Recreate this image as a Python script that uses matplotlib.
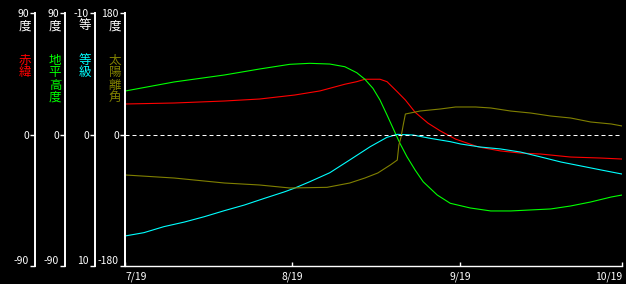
import numpy as np
import matplotlib
matplotlib.use("Agg")
import matplotlib.pyplot as plt

plt.rcParams['font.family'] = ['Noto Sans CJK JP', 'DejaVu Sans']

# days counted from 7/19
date_ticks = [0, 31, 62, 92]
date_labels = ["7/19", "8/19", "9/19", "10/19"]

# declination (deg)
dec_days = [0, 9.1, 18.4, 24.9, 31.4, 36.1, 40.7, 42.9, 44.4, 47.2, 48.5, 50.4, 51.9,
            53.7, 56.1, 58.4, 61.2, 65.4, 69.5, 73.2, 77.0, 82.5, 88.1, 92]
dec = [21.8, 22.5, 23.9, 25.3, 28.1, 31.0, 35.7, 37.5, 39.2, 39.2, 37.5, 30.4, 24.6,
       16.0, 8.3, 2.8, -2.9, -8.4, -11.2, -12.7, -13.4, -15.5, -16.2, -16.9]

# altitude (deg)
alt_days = [0, 9.1, 18.4, 24.9, 30.5, 34.2, 37.9, 40.7, 42.9, 44.4, 45.9, 47.2, 48.5,
            49.6, 50.9, 52.2, 53.7, 55.2, 57.8, 60.2, 62.1, 63.9, 67.7, 71.4, 75.1,
            78.8, 82.5, 86.2, 90.0, 92]
alt = [30.9, 37.3, 42.2, 46.4, 49.7, 50.4, 49.9, 48.0, 43.8, 39.2, 32.8, 24.6, 14.1,
       4.9, -5.9, -15.3, -24.6, -32.9, -42.2, -48.0, -49.7, -51.3, -53.4, -53.4, -52.7,
       -52.0, -49.9, -47.1, -43.6, -42.2]

# magnitude
mag_days = [0, 3.5, 7.2, 11.0, 14.7, 18.4, 22.1, 25.8, 29.6, 31.4, 34.2, 37.9, 41.6,
            45.4, 48.5, 50.4, 53.3, 56.5, 60.2, 62.1, 65.8, 69.5, 73.2, 77.0, 80.7,
            84.4, 88.1, 92]
mag = [7.89, 7.63, 7.16, 6.80, 6.38, 5.91, 5.47, 4.95, 4.43, 4.15, 3.65, 2.95, 1.95,
       0.91, 0.18, -0.05, 0.0, 0.26, 0.52, 0.70, 0.94, 1.09, 1.33, 1.72, 2.11,
       2.42, 2.73, 3.05]

# elongation (deg)
elo_days = [0, 9.1, 18.4, 24.9, 30.5, 37.4, 41.6, 44.4, 46.8, 49.1, 50.4, 50.7, 51.1,
            51.5, 51.9, 54.6, 58.4, 61.2, 64.9, 67.7, 71.4, 75.1, 78.8, 82.5, 86.2,
            90.0, 92]
elo = [-56.2, -60.5, -67.5, -70.3, -74.5, -73.6, -67.5, -60.5, -53.4, -42.2, -35.2, -14.0, -2.8,
       14.0, 29.5, 33.7, 36.6, 39.4, 39.4, 38.0, 33.7, 30.9, 26.7, 23.9, 18.3,
       15.5, 12.7]

RED, GREEN, CYAN, OLIVE = "#ff0000", "#00ff00", "#00ffff", "#808000"

# left scales: top label, bottom label, unit, name, colour
scales = [
    ("90", "-90", "度", "赤緯", RED),
    ("90", "-90", "度", "地平高度", GREEN),
    ("-10", "10", "等", "等級", CYAN),
    ("180", "-180", "度", "太陽離角", OLIVE),
]

W, H = 626, 284
fig = plt.figure(figsize=(W / 100, H / 100), dpi=100, facecolor="black")

def px(x, y):
    return x / W, 1 - y / H

top_px, zero_px, bot_px = 13, 135, 266
unit = 128.0
ylo, yhi = -(bot_px - zero_px) / unit, (zero_px - top_px) / unit
ax_bottom = (H - bot_px) / H
ax_height = (bot_px - top_px) / H

ax = fig.add_axes([125 / W, ax_bottom, (622 - 125) / W, ax_height])
ax.set_facecolor("black")
ax.set_xlim(0, 92)
ax.set_ylim(ylo, yhi)

ax.plot(dec_days, np.array(dec) / 90, color=RED, lw=0.8)
ax.plot(alt_days, np.array(alt) / 90, color=GREEN, lw=0.8)
ax.plot(mag_days, -np.array(mag) / 10, color=CYAN, lw=0.8)
ax.plot(elo_days, np.array(elo) / 180, color=OLIVE, lw=0.8)
ax.axhline(0, color="white", lw=0.72, dashes=(4, 3))

for s in ["top", "right"]:
    ax.spines[s].set_visible(False)
ax.spines["left"].set_color("white")
ax.spines["left"].set_linewidth(1.2)
ax.spines["bottom"].set_color("white")
ax.spines["bottom"].set_linewidth(1.0)
ax.set_yticks([])
ax.set_xticks(date_ticks)
ax.set_xticklabels(date_labels)
ax.tick_params(axis="x", direction="in", length=3, width=1, color="white",
               labelcolor="white", labelsize=7.5, pad=4)
xl = ax.get_xticklabels()
xl[0].set_ha("left")
xl[-1].set_ha("right")

for i, (tl, bl, unit_txt, name, col) in enumerate(scales):
    x = 35 + 30 * i
    sa = fig.add_axes([x / W, ax_bottom, 0.0005, ax_height])
    sa.patch.set_visible(False)
    for s in ["top", "right", "bottom"]:
        sa.spines[s].set_visible(False)
    sa.spines["left"].set_color("white")
    sa.spines["left"].set_linewidth(1.4)
    sa.set_xticks([])
    sa.set_ylim(ylo, yhi)
    sa.set_yticks([yhi, 0, ylo])
    sa.set_yticklabels([tl, "0", bl])
    sa.tick_params(axis="y", direction="out", length=3.5, width=1, color="white",
                   labelcolor="white", labelsize=7.5, pad=1)
    sa.get_yticklabels()[2].set_va("bottom")

    fig.text(*px(x - 10, 26), unit_txt, color="white", fontsize=9,
             ha="center", va="center")
    fig.text(*px(x - 10, 54), "\n".join(name), color=col, fontsize=9,
             ha="center", va="top", linespacing=0.93)

plt.savefig("out.png", dpi=100, facecolor="black")
